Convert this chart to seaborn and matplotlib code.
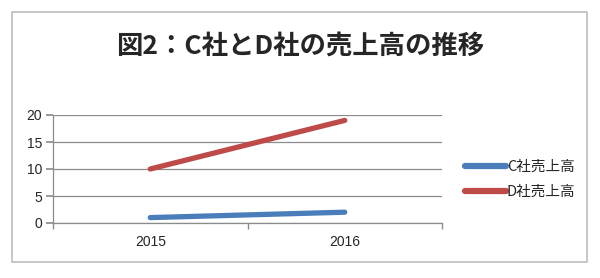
import matplotlib
matplotlib.use("Agg")
import matplotlib.pyplot as plt
import seaborn as sns
import pandas as pd
from matplotlib.patches import Rectangle

years = ["2015", "2016"]
series_names = ["C社売上高", "D社売上高"]
c_sales = [1, 2]
d_sales = [10, 19]
title = "図2：C社とD社の売上高の推移"
yticks = [0, 5, 10, 15, 20]

sns.set_theme(style="white")
plt.rcParams['font.family'] = ['Noto Sans CJK JP', 'DejaVu Sans']

df = pd.DataFrame({
    "year": list(range(len(years))) * 2,
    "value": c_sales + d_sales,
    "series": [series_names[0]] * len(years) + [series_names[1]] * len(years),
})

fig = plt.figure(figsize=(6.0, 2.78), dpi=100)
fig.patch.set_facecolor("white")
fig.add_artist(Rectangle((12/600, 1-262/278), 575/600, 250/278, transform=fig.transFigure,
                         fill=False, edgecolor="#bdbdbd", linewidth=1.2))

ax = fig.add_axes([53/600, 1-223/278, 389/600, 108/278])
palette = {series_names[0]: "#4A7EBB", series_names[1]: "#BE4B48"}
sns.lineplot(data=df, x="year", y="value", hue="series", palette=palette,
             linewidth=3.8, ax=ax, legend=False)
for ln in ax.get_lines():
    ln.set_solid_capstyle("round")

ax.set_xlim(-0.5, len(years) - 0.5)
ax.set_ylim(0, 20)
ax.set_yticks(yticks)
ax.set_yticklabels([str(v) for v in yticks], fontfamily="Liberation Sans", fontsize=10)
ax.set_xticks(range(len(years)))
ax.set_xticklabels(years, fontfamily="Liberation Sans", fontsize=10)
ax.tick_params(axis="x", length=0, pad=9)
ax.set_xticks([-0.5, 0.5, 1.5], minor=True)
ax.tick_params(axis="x", which="minor", length=4, color="#8c8c8c", direction="out", bottom=True)
ax.tick_params(axis="y", length=5, color="#8c8c8c", direction="out", left=True, pad=3)
ax.set_xlabel("")
ax.set_ylabel("")
ax.grid(axis="y", color="#8c8c8c", linewidth=0.9)
ax.set_axisbelow(True)
for s in ["top", "right"]:
    ax.spines[s].set_visible(False)
for s in ["left", "bottom"]:
    ax.spines[s].set_color("#8c8c8c")
    ax.spines[s].set_linewidth(0.9)

handles = [plt.Line2D([], [], color=palette[n], linewidth=4.5, solid_capstyle="round") for n in series_names]
fig.legend(handles, series_names, loc="upper left", bbox_to_anchor=(452/600, 1-147/278),
           frameon=False, handlelength=2.8, handletextpad=0.05, labelspacing=0.75,
           prop={"family": ["Noto Sans CJK JP", "DejaVu Sans"], "size": 10.5})

fig.text(0.5, 1-46/278, title, ha="center", va="center", fontsize=19, fontweight="bold",
         fontfamily=["Noto Sans CJK JP", "DejaVu Sans"])

fig.savefig("out.png", dpi=100, facecolor="white")
